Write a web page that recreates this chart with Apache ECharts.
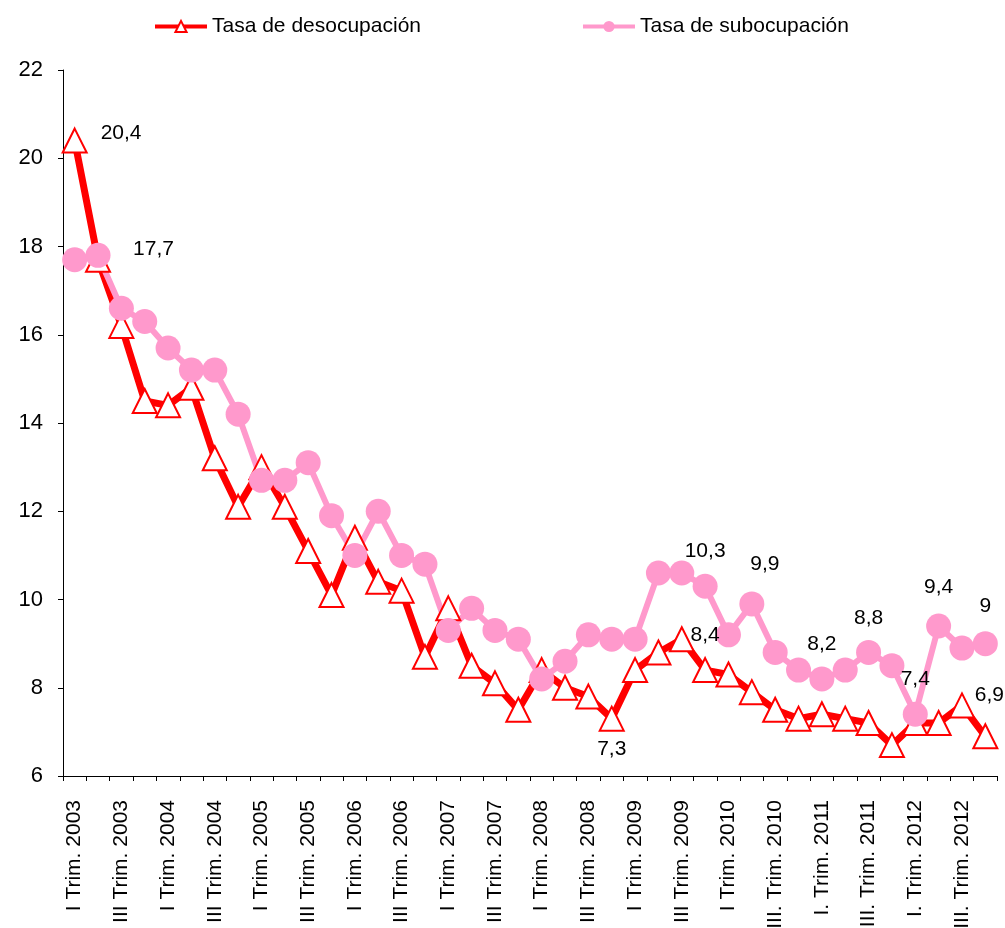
<!DOCTYPE html>
<html>
<head>
<meta charset="utf-8">
<script src="https://cdn.jsdelivr.net/npm/echarts@6/dist/echarts.min.js"></script>
<style>
html,body{margin:0;padding:0;background:#fff;}
#chart{width:1005px;height:928px;}
</style>
</head>
<body>
<div id="chart"></div>
<script>
const categories = [
  "I Trim. 2003","II Trim. 2003","III Trim. 2003","IV Trim. 2003",
  "I Trim. 2004","II Trim. 2004","III Trim. 2004","IV Trim. 2004",
  "I Trim. 2005","II Trim. 2005","III Trim. 2005","IV Trim. 2005",
  "I Trim. 2006","II Trim. 2006","III Trim. 2006","IV Trim. 2006",
  "I Trim. 2007","II Trim. 2007","III Trim. 2007","IV Trim. 2007",
  "I Trim. 2008","II Trim. 2008","III Trim. 2008","IV Trim. 2008",
  "I Trim. 2009","II Trim. 2009","III Trim. 2009","IV Trim. 2009",
  "I Trim. 2010","II. Trim. 2010","III. Trim. 2010","IV. Trim. 2010",
  "I. Trim. 2011","II. Trim. 2011","III. Trim. 2011","IV. Trim. 2011",
  "I. Trim. 2012","II. Trim. 2012","III. Trim. 2012","IV. Trim. 2012"
];
const desocupacion = [
  20.4,17.7,16.2,14.5,14.4,14.8,13.2,12.1,13.0,12.1,
  11.1,10.1,11.4,10.4,10.2,8.7,9.8,8.5,8.1,7.5,
  8.4,8.0,7.8,7.3,8.4,8.8,9.1,8.4,8.3,7.9,
  7.5,7.3,7.4,7.3,7.2,6.7,7.2,7.2,7.6,6.9
];
const subocupacion = [
  17.7,17.8,16.6,16.3,15.7,15.2,15.2,14.2,12.7,12.7,
  13.1,11.9,11.0,12.0,11.0,10.8,9.3,9.8,9.3,9.1,
  8.2,8.6,9.2,9.1,9.1,10.6,10.6,10.3,9.2,9.9,
  8.8,8.4,8.2,8.4,8.8,8.5,7.4,9.4,8.9,9.0
];
const seriesNames = ["Tasa de desocupación", "Tasa de subocupación"];
const desocLabelIdx = [0, 1, 23, 27, 39];
const subocLabelIdx = [27, 29, 32, 34, 36, 37, 39];

const FONT = "'Liberation Sans', Arial, sans-serif";
const fmt = v => String(v).replace('.', ',');

// label placement styles (positions only)
const desocLabelStyle = {
  0:  {position: 'right', distance: 13, offset: [0, -7]},
  1:  {position: 'right', distance: 22, offset: [0, -11]},
  23: {position: 'bottom', distance: 7},
  27: {position: 'top', distance: 11},
  39: {position: 'top', distance: 18, offset: [4, 0]}
};
const subocLabelStyle = {
  27: {position: 'top', distance: 12},
  29: {position: 'top', distance: 17, offset: [13, 0]},
  32: {position: 'top', distance: 12},
  34: {position: 'top', distance: 11},
  36: {position: 'top', distance: 12},
  37: {position: 'top', distance: 16},
  39: {position: 'top', distance: 14}
};

function buildData(values, idxList, styles) {
  return values.map((v, i) => {
    if (idxList.indexOf(i) >= 0) {
      return {
        value: v,
        label: Object.assign({
          show: true,
          formatter: p => fmt(p.value),
          color: '#000',
          fontSize: 21,
          fontFamily: FONT
        }, styles[i] || {})
      };
    }
    return v;
  });
}

const chart = echarts.init(document.getElementById('chart'), null, {renderer: 'canvas'});
chart.setOption({
  animation: false,
  backgroundColor: '#fff',
  textStyle: {fontFamily: FONT},
  legend: {
    left: 148,
    top: 11,
    itemWidth: 52,
    itemHeight: 14,
    itemGap: 160,
    textStyle: {fontSize: 21, color: '#000', fontFamily: FONT},
    data: [
      {name: seriesNames[0], lineStyle: {width: 4}},
      {name: seriesNames[1], lineStyle: {width: 4}}
    ]
  },
  grid: {left: 63, right: 8, top: 70, bottom: 152, containLabel: false, outerBoundsMode: 'none'},
  xAxis: {
    type: 'category',
    data: categories,
    boundaryGap: true,
    axisLine: {lineStyle: {color: '#000', width: 1}},
    axisTick: {show: true, interval: 0, length: 5, lineStyle: {color: '#000'}},
    axisLabel: {interval: 1, rotate: 90, margin: 24, fontSize: 21, color: '#000', fontFamily: FONT},
    splitLine: {show: false}
  },
  yAxis: {
    type: 'value',
    min: 6, max: 22, interval: 2,
    axisLine: {show: true, lineStyle: {color: '#000', width: 1}},
    axisTick: {show: true, length: 5, lineStyle: {color: '#000'}},
    axisLabel: {margin: 20, fontSize: 22, color: '#000', fontFamily: FONT},
    splitLine: {show: false}
  },
  series: [
    {
      name: seriesNames[0],
      type: 'line',
      data: buildData(desocupacion, desocLabelIdx, desocLabelStyle),
      symbol: 'triangle',
      symbolSize: 24,
      showAllSymbol: true,
      lineStyle: {color: '#FF0000', width: 7},
      itemStyle: {color: '#FFFFFF', borderColor: '#FF0000', borderWidth: 2},
      emphasis: {disabled: true}
    },
    {
      name: seriesNames[1],
      type: 'line',
      data: buildData(subocupacion, subocLabelIdx, subocLabelStyle),
      symbol: 'circle',
      symbolSize: 25,
      showAllSymbol: true,
      lineStyle: {color: '#FF99CC', width: 6},
      itemStyle: {color: '#FF99CC', borderColor: '#FF99CC', borderWidth: 0},
      emphasis: {disabled: true}
    }
  ]
});
</script>
</body>
</html>
